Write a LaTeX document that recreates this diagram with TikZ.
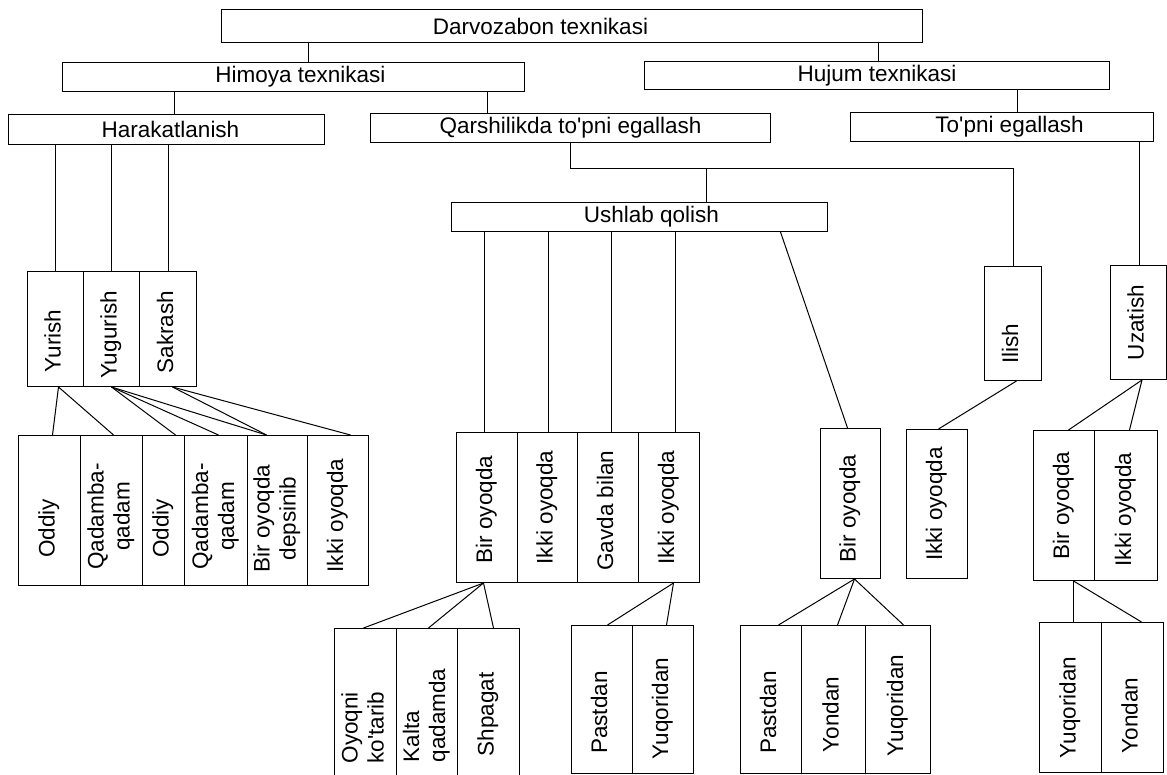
\documentclass[tikz,border=0pt]{standalone}
\usepackage{fontspec}
\setmainfont{Liberation Sans}
\usepackage{graphicx}
\newcommand{\dfont}{\fontsize{22.5}{26}\selectfont}
% rotated (bottom-to-top) label; optional argument moves it down along the box
\newcommand{\vt}[2][0]{\rotatebox{90}{\begin{tabular}{@{}c@{}}#2\end{tabular}\hspace*{#1pt}\hspace*{#1pt}}}
\newcommand{\vtl}[2][0]{\rotatebox{90}{\begin{tabular}{@{}l@{}}#2\end{tabular}\hspace*{#1pt}\hspace*{#1pt}}}
\newcommand{\q}{\textquotesingle}
\begin{document}
\begin{tikzpicture}[x=1pt,y=-1pt,line width=1pt,
  box/.style={draw,line width=1pt,inner sep=0pt,anchor=north west,font=\dfont},
  link/.style={draw,line width=1pt}]
\useasboundingbox (0,0) rectangle (1167,775);
\clip (0,0) rectangle (1167,775);

% ---- upper levels
\node[box,minimum width=701pt,minimum height=33pt] (D) at (221,9) {\hspace*{-63pt}Darvozabon texnikasi};
\node[box,minimum width=462pt,minimum height=29pt] (H) at (62,62) {\hspace*{14pt}Himoya texnikasi};
\node[box,minimum width=465pt,minimum height=28pt] (J) at (644,61) {Hujum texnikasi};
\node[box,minimum width=316pt,minimum height=30pt] (R) at (8,114) {\hspace*{8pt}Harakatlanish};
\node[box,minimum width=400pt,minimum height=29pt] (Q) at (370,113) {Qarshilikda to\q pni egallash};
\node[box,minimum width=303pt,minimum height=29pt] (T) at (850,112) {\hspace*{15pt}To\q pni egallash};
\node[box,minimum width=376pt,minimum height=29pt] (U) at (451,202) {\hspace*{24pt}Ushlab qolish};

% ---- movement
\node[box,minimum width=56pt,minimum height=115pt] (Yr) at (27,271) {\vt[12]{Yurish}};
\node[box,minimum width=56pt,minimum height=115pt] (Yg) at (83,271) {\vt[6]{Yugurish}};
\node[box,minimum width=57pt,minimum height=115pt] (Sk) at (139,271) {\vt[3]{Sakrash}};
\node[box,minimum width=62pt,minimum height=150pt] (L1) at (18,435) {\vt[18]{Oddiy}};
\node[box,minimum width=62pt,minimum height=150pt] (L2) at (80,435) {\vt[6]{Qadamba-\\qadam}};
\node[box,minimum width=42pt,minimum height=150pt] (L3) at (142,435) {\vt[18]{Oddiy}};
\node[box,minimum width=63pt,minimum height=150pt] (L4) at (184,435) {\vt[6]{Qadamba-\\qadam}};
\node[box,minimum width=60pt,minimum height=150pt] (L5) at (247,435) {\vt[8]{Bir oyoqda\\depsinib}};
\node[box,minimum width=61pt,minimum height=150pt] (L6) at (307,435) {\vt[5]{Ikki oyoqda}};

% ---- catching
\node[box,minimum width=61pt,minimum height=150pt] (B1) at (456,432) {\vt[2]{Bir oyoqda}};
\node[box,minimum width=60pt,minimum height=150pt] (B2) at (517,432) {\vt{Ikki oyoqda}};
\node[box,minimum width=61pt,minimum height=150pt] (B3) at (577,432) {\vt[3]{Gavda bilan}};
\node[box,minimum width=61pt,minimum height=150pt] (B4) at (638,432) {\vt{Ikki oyoqda}};
\node[box,minimum width=60pt,minimum height=150pt] (B5) at (820,428) {\vt[5]{Bir oyoqda}};
\node[box,minimum width=57pt,minimum height=114pt] (Il) at (984,266) {\vt[20]{Ilish}};
\node[box,minimum width=61pt,minimum height=149pt] (B6) at (906,429) {\vt{Ikki oyoqda}};
\node[box,minimum width=56pt,minimum height=114pt] (Uz) at (1110,265) {\vt{Uzatish}};
\node[box,minimum width=61pt,minimum height=150pt] (U1) at (1033,430) {\vt{Bir oyoqda}};
\node[box,minimum width=63pt,minimum height=150pt] (U2) at (1094,430) {\vt[4]{Ikki oyoqda}};

% ---- lowest level
\node[box,minimum width=62pt,minimum height=172pt] (Oy) at (334,628) {\vtl[13]{Oyoqni\\ko\q tarib}};
\node[box,minimum width=61pt,minimum height=172pt] (Ka) at (396,628) {\vtl[1]{Kalta\\qadamda}};
\node[box,minimum width=62pt,minimum height=172pt] (Sh) at (457,628) {\vt{Shpagat}};
\node[box,minimum width=61pt,minimum height=148pt] (P1) at (571,625) {\vt[13]{Pastdan}};
\node[box,minimum width=61pt,minimum height=148pt] (Y1) at (632,625) {\vt[9]{Yuqoridan}};
\node[box,minimum width=61pt,minimum height=148pt] (P2) at (740,625) {\vt[13]{Pastdan}};
\node[box,minimum width=64pt,minimum height=148pt] (O2) at (801,625) {\vt[15]{Yondan}};
\node[box,minimum width=65pt,minimum height=148pt] (Y2) at (865,625) {\vt[6]{Yuqoridan}};
\node[box,minimum width=62pt,minimum height=150pt] (Y3) at (1039,622) {\vt[10]{Yuqoridan}};
\node[box,minimum width=62pt,minimum height=150pt] (O3) at (1101,622) {\vt[18]{Yondan}};

% ---- vertical connectors
\draw ([xshift=15pt]H.north) -- ([xshift=15pt]H.north |- D.south);
\draw ([xshift=1.5pt]J.north) -- ([xshift=1.5pt]J.north |- D.south);
\draw ([xshift=8pt]R.north) -- ([xshift=8pt]R.north |- H.south);
\draw ([xshift=-83pt]Q.north) -- ([xshift=-83pt]Q.north |- H.south);
\draw ([xshift=15.5pt]T.north) -- ([xshift=15.5pt]T.north |- J.south);
\foreach \n in {Yr,Yg,Sk} \draw (\n.north) -- (\n.north |- R.south);
\coordinate (qj) at ([yshift=-26pt]Q.south);
\draw (Q.south) -- (qj) -| (Il.north);
\draw ([xshift=67pt]U.north) -- ([xshift=67pt]U.north |- qj);
\foreach \n/\s in {B1/-2.5,B2/1,B3/3.5,B4/6.5}
  \draw ([xshift=\s pt]\n.north) -- ([xshift=\s pt]\n.north |- U.south);
\draw ([xshift=0.5pt]Uz.north) -- ([xshift=0.5pt]Uz.north |- T.south);

% ---- slanted connectors
\draw ([xshift=141pt]U.south) -- ([xshift=-3pt]B5.north);
\draw ([xshift=3.5pt]Il.south) -- ([xshift=1.5pt]B6.north);
\draw ([xshift=3.5pt]Uz.south) -- ([xshift=4.5pt]U1.north);
\draw ([xshift=3.5pt]Uz.south) -- ([xshift=3.5pt]U2.north);

\draw ([xshift=3pt]Yr.south) -- ([xshift=3pt]L1.north);
\draw ([xshift=3pt]Yr.south) -- ([xshift=2pt]L2.north);
\draw (Yg.south) -- ([xshift=12pt]L3.north);
\draw (Yg.south) -- ([xshift=2.5pt]L4.north);
\draw (Yg.south) -- ([xshift=-11pt]L5.north);
\draw ([xshift=4.5pt]Sk.south) -- ([xshift=-11pt]L5.north);
\draw ([xshift=4.5pt]Sk.south) -- ([xshift=12.5pt]L6.north);

\draw ([xshift=-3.5pt]B1.south) -- ([xshift=-2pt]Oy.north);
\draw ([xshift=-3.5pt]B1.south) -- ([xshift=1.5pt]Ka.north);
\draw ([xshift=-3.5pt]B1.south) -- ([xshift=5pt]Sh.north);
\draw ([xshift=4.5pt]B4.south) -- ([xshift=5.5pt]P1.north);
\draw ([xshift=4.5pt]B4.south) -- ([xshift=3.5pt]Y1.north);
\draw ([xshift=4pt]B5.south) -- ([xshift=7.5pt]P2.north);
\draw ([xshift=4pt]B5.south) -- ([xshift=4pt]O2.north);
\draw ([xshift=4pt]B5.south) -- ([xshift=5.5pt]Y2.north);
\draw ([xshift=9.5pt]U1.south) -- ([xshift=3pt]Y3.north);
\draw ([xshift=9.5pt]U1.south) -- ([xshift=9pt]O3.north);
\end{tikzpicture}
\end{document}
